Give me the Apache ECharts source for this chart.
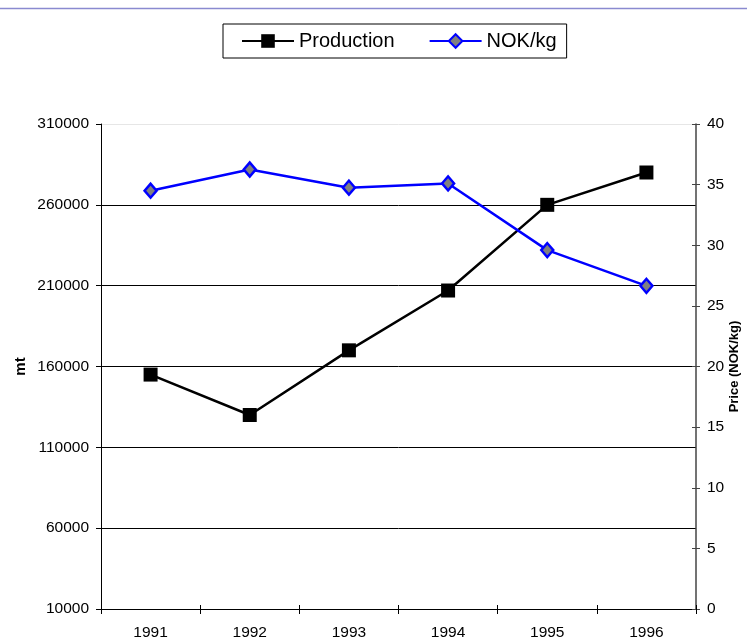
<!DOCTYPE html>
<html>
<head>
<meta charset="utf-8">
<script src="https://cdn.jsdelivr.net/npm/echarts@6/dist/echarts.min.js"></script>
<style>
html,body{margin:0;padding:0;background:#fff;overflow:hidden;}
#chart{width:747px;height:640px;}
</style>
</head>
<body>
<div id="chart"></div>
<script>
var years = ['1991', '1992', '1993', '1994', '1995', '1996'];
var production = [155000, 130000, 170000, 207000, 260000, 280000];
var nokPerKg = [34.5, 36.25, 34.75, 35.1, 29.6, 26.65];
var seriesNames = ['Production', 'NOK/kg'];
var leftAxisName = 'mt';
var rightAxisName = 'Price (NOK/kg)';

var FONT = '"Liberation Sans", Arial, sans-serif';
var chart = echarts.init(document.getElementById('chart'), null, {renderer: 'canvas'});
function plain(v) { return String(v); }

var option = {
  backgroundColor: '#ffffff',
  animation: false,
  graphic: [{
    type: 'line',
    shape: {x1: 0, y1: 8.5, x2: 747, y2: 8.5},
    style: {stroke: '#8a8ad0', lineWidth: 1.5},
    silent: true
  }],
  legend: {
    left: 223,
    top: 24,
    padding: [7, 10, 7, 18],
    borderColor: '#000',
    borderWidth: 1,
    itemWidth: 52,
    itemHeight: 17,
    itemGap: 34,
    textStyle: {fontFamily: FONT, fontSize: 20, color: '#000'},
    data: seriesNames
  },
  grid: {left: 101, right: 51, top: 124, bottom: 31, containLabel: false, outerBoundsMode: 'none'},
  xAxis: [{
    type: 'category',
    data: years,
    position: 'bottom',
    boundaryGap: true,
    axisLine: {lineStyle: {color: '#000', width: 1}},
    axisTick: {show: true, length: 5, lineStyle: {color: '#000'}},
    axisLabel: {fontFamily: FONT, fontSize: 15.5, color: '#000', margin: 16},
    splitLine: {show: false}
  }, {
    type: 'category',
    data: years,
    position: 'bottom',
    boundaryGap: true,
    axisLine: {show: false},
    axisTick: {show: true, inside: true, length: 4, lineStyle: {color: '#000'}},
    axisLabel: {show: false},
    splitLine: {show: false}
  }],
  yAxis: [{
    type: 'value',
    position: 'left',
    min: 10000,
    max: 310000,
    interval: 50000,
    name: leftAxisName,
    nameLocation: 'middle',
    nameRotate: 90,
    nameGap: 73,
    nameMoveOverlap: false,
    nameTextStyle: {fontFamily: FONT, fontSize: 15, fontWeight: 'bold', color: '#000'},
    axisLine: {show: true, lineStyle: {color: '#000', width: 1}},
    axisTick: {show: true, length: 5, lineStyle: {color: '#000'}},
    axisLabel: {fontFamily: FONT, fontSize: 15.5, color: '#000', margin: 12, formatter: plain},
    splitLine: {show: true, lineStyle: {color: ['#000', '#000', '#000', '#000', '#000', '#000', '#e6e6e6'], width: 1}}
  }, {
    type: 'value',
    position: 'right',
    min: 0,
    max: 40,
    interval: 5,
    name: rightAxisName,
    nameLocation: 'middle',
    nameRotate: 90,
    nameGap: 32,
    nameMoveOverlap: false,
    nameTextStyle: {fontFamily: FONT, fontSize: 13, fontWeight: 'bold', color: '#000'},
    axisLine: {show: true, lineStyle: {color: '#444', width: 1.5}},
    axisTick: {show: true, length: 4, lineStyle: {color: '#444'}},
    axisLabel: {fontFamily: FONT, fontSize: 15.5, color: '#000', margin: 11, formatter: plain},
    splitLine: {show: false}
  }, {
    type: 'value',
    position: 'right',
    min: 0,
    max: 40,
    interval: 5,
    axisLine: {show: false},
    axisTick: {show: true, inside: true, length: 4, lineStyle: {color: '#444'}},
    axisLabel: {show: false},
    splitLine: {show: false}
  }],
  series: [{
    name: seriesNames[0],
    type: 'line',
    xAxisIndex: 0,
    yAxisIndex: 0,
    data: production,
    symbol: 'rect',
    symbolSize: 14,
    lineStyle: {color: '#000', width: 2.5},
    itemStyle: {color: '#000', borderColor: '#000', borderWidth: 0},
    z: 3
  }, {
    name: seriesNames[1],
    type: 'line',
    xAxisIndex: 0,
    yAxisIndex: 1,
    data: nokPerKg,
    symbol: 'diamond',
    symbolSize: [12, 14],
    lineStyle: {color: '#0000ff', width: 2.5},
    itemStyle: {color: '#808080', borderColor: '#0000ff', borderWidth: 2.5},
    z: 4
  }]
};
chart.setOption(option);
</script>
</body>
</html>
